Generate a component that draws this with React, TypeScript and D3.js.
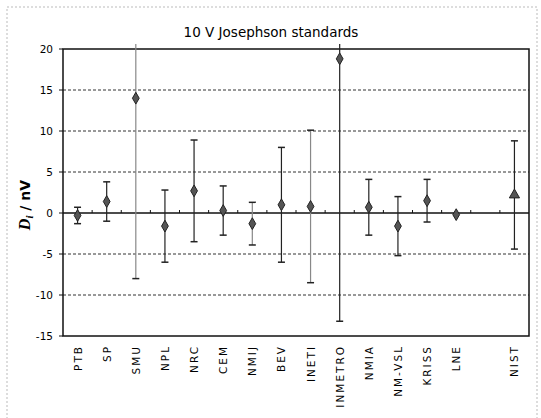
import { useEffect, useRef } from "react";
import * as d3 from "d3";

// labs in plot order; "" is an empty slot before NIST
const labs = ["PTB", "SP", "SMU", "NPL", "NRC", "CEM", "NMIJ", "BEV", "INETI", "INMETRO", "NMIA", "NM-VSL", "KRISS", "LNE", "", "NIST"];
const di = [-0.3, 1.4, 14.0, -1.6, 2.7, 0.3, -1.3, 1.0, 0.8, 18.8, 0.7, -1.6, 1.5, -0.2, NaN, 2.2];
const unc = [1.0, 2.4, 22.0, 4.4, 6.2, 3.0, 2.6, 7.0, 9.3, 32.0, 3.4, 3.6, 2.6, 0, NaN, 6.6];
const yTicks = [20, 15, 10, 5, 0, -5, -10, -15];
const gridVals = [15, 10, 5, -5, -10];

const W = 541;
const H = 418;

export default function App() {
  const ref = useRef<SVGSVGElement>(null);

  useEffect(() => {
    const svg = d3.select(ref.current);
    svg.selectAll("*").remove();

    const left = 63, right = 529, top = 49, bottom = 336;
    const x = d3.scaleBand().domain(labs.map((d, i) => String(i))).range([left, right]);
    const y = d3.scaleLinear().domain([-15, 20]).range([bottom, top]);
    const font = "DejaVu Sans, Verdana, sans-serif";

    // outer frame
    svg.append("rect")
      .attr("x", 7).attr("y", 7).attr("width", 530).attr("height", 420)
      .attr("fill", "white").attr("stroke", "#bbb").attr("stroke-dasharray", "2,2");

    svg.append("text")
      .attr("x", 271).attr("y", 37)
      .attr("text-anchor", "middle")
      .attr("font-family", font).attr("font-size", 13.5)
      .text("10 V Josephson standards");

    // grid
    svg.selectAll(".grid").data(gridVals).enter().append("line")
      .attr("x1", left).attr("x2", right)
      .attr("y1", (d) => y(d)).attr("y2", (d) => y(d))
      .attr("stroke", "#333").attr("stroke-width", 1).attr("stroke-dasharray", "3,2");

    // frame
    svg.append("rect")
      .attr("x", left).attr("y", top).attr("width", right - left).attr("height", bottom - top)
      .attr("fill", "none").attr("stroke", "#111").attr("stroke-width", 1.5);

    // y ticks
    const yg = svg.append("g");
    yTicks.forEach((t) => {
      yg.append("line").attr("x1", left - 4).attr("x2", left)
        .attr("y1", y(t)).attr("y2", y(t)).attr("stroke", "#111");
      yg.append("text").attr("x", left - 10).attr("y", y(t)).attr("dy", "0.35em")
        .attr("text-anchor", "end").attr("font-family", font).attr("font-size", 10.5)
        .text(t);
    });

    // zero line with small ticks at band edges
    svg.append("line").attr("x1", left).attr("x2", right)
      .attr("y1", y(0)).attr("y2", y(0)).attr("stroke", "#111").attr("stroke-width", 1.5);
    d3.range(1, labs.length).forEach((i) => {
      const xx = left + i * x.bandwidth();
      svg.append("line").attr("x1", xx).attr("x2", xx)
        .attr("y1", y(0)).attr("y2", y(0) - 3).attr("stroke", "#111");
    });

    // x labels
    labs.forEach((l, i) => {
      if (!l) return;
      const cx = (x(String(i)) || 0) + x.bandwidth() / 2;
      svg.append("text")
        .attr("transform", `translate(${cx + 4},345) rotate(-90)`)
        .attr("text-anchor", "end")
        .attr("font-family", font).attr("font-size", 10.5)
        .attr("letter-spacing", 2)
        .text(l);
    });

    // y label
    const yl = svg.append("text")
      .attr("transform", "translate(30,205) rotate(-90)")
      .attr("text-anchor", "middle")
      .attr("font-family", font).attr("font-size", 14).attr("font-weight", "bold");
    yl.append("tspan").attr("font-style", "italic").attr("font-family", "Liberation Serif, serif").attr("font-size", 16).text("D");
    yl.append("tspan").attr("font-style", "italic").attr("font-family", "Liberation Serif, serif").attr("font-size", 11).attr("dy", 3).text("i");
    yl.append("tspan").attr("dy", -3).text(" / nV");

    const grey = new Set(["SMU", "NMIJ", "INETI"]);
    const cap = 3.5;
    labs.forEach((l, i) => {
      if (!l || isNaN(di[i])) return;
      const cx = (x(String(i)) || 0) + x.bandwidth() / 2;
      const col = grey.has(l) ? "#888" : "#222";
      if (unc[i] > 0) {
        const hi = di[i] + unc[i];
        const lo = di[i] - unc[i];
        const yHi = hi > 20 ? top - 5 : y(hi);
        svg.append("line").attr("x1", cx).attr("x2", cx)
          .attr("y1", yHi).attr("y2", y(lo)).attr("stroke", col).attr("stroke-width", 1.2);
        if (hi <= 20) {
          svg.append("line").attr("x1", cx - cap).attr("x2", cx + cap)
            .attr("y1", y(hi)).attr("y2", y(hi)).attr("stroke", "#222").attr("stroke-width", 1.5);
        }
        svg.append("line").attr("x1", cx - cap).attr("x2", cx + cap)
          .attr("y1", y(lo)).attr("y2", y(lo)).attr("stroke", "#222").attr("stroke-width", 1.5);
      }
      const sym = l === "NIST" ? d3.symbolTriangle : d3.symbolDiamond;
      svg.append("path")
        .attr("d", d3.symbol().type(sym).size(l === "NIST" ? 45 : 40)())
        .attr("transform", `translate(${cx},${y(di[i])})`)
        .attr("fill", "#555").attr("stroke", "#222").attr("stroke-width", 1);
    });
  }, []);

  return (
    <svg ref={ref} width={W} height={H} style={{ position: "absolute", left: 0, top: 0, background: "white" }} />
  );
}
